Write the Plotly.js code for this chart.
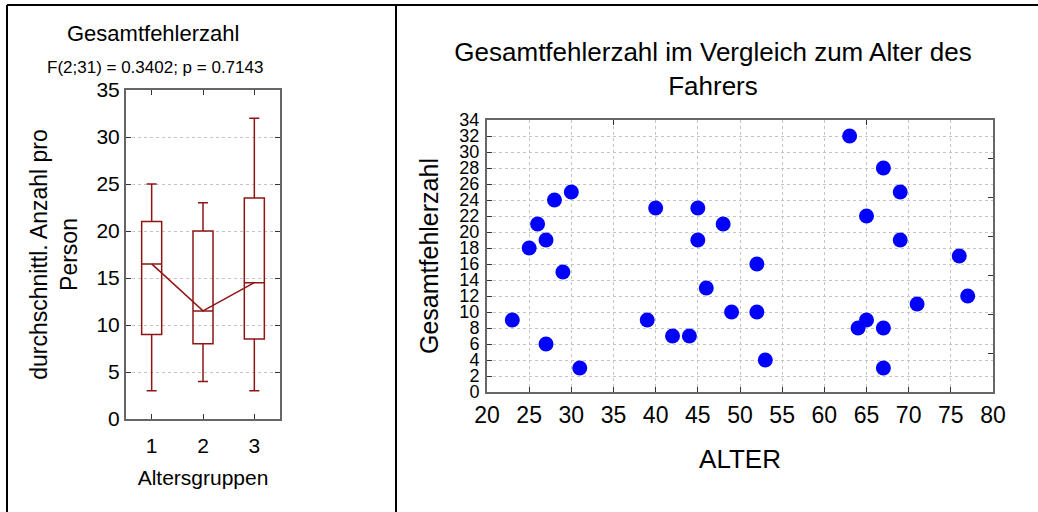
<!DOCTYPE html>
<html><head><meta charset="utf-8">
<script src="https://cdn.plot.ly/plotly-3.0.1.min.js"></script>
<style>html,body{margin:0;padding:0;background:#fff}</style>
</head><body><div id="chart" style="width:1038px;height:512px"></div>
<script>
// ---- Data: box plot (Altersgruppen) ----
const groups = [1, 2, 3];
const groupLabels = ['1', '2', '3'];
const boxLower = [3, 4, 3];
const boxQ1 = [9, 8, 8.5];
const boxMedian = [16.5, 11.5, 14.5];
const boxQ3 = [21, 20, 23.5];
const boxUpper = [25, 23, 32];

// ---- Data: scatter (ALTER vs Gesamtfehlerzahl) ----
const age =    [23, 25, 26, 27, 28, 29, 30, 27, 31, 39, 40, 42, 44, 45, 45, 46, 48, 52, 49, 52, 53, 63, 67, 69, 65, 69, 76, 77, 71, 65, 64, 67, 67];
const errors = [ 9, 18, 21, 19, 24, 15, 25,  6,  3,  9, 23,  7,  7, 23, 19, 13, 21, 16, 10, 10,  4, 32, 28, 25, 22, 19, 17, 12, 11,  9,  8,  8,  3];

const xTicksRight = [20, 25, 30, 35, 40, 45, 50, 55, 60, 65, 70, 75, 80];

const W = 1038, H = 512;
const px = v => v / W;
const py = v => 1 - v / H;
const FONT = 'Liberation Sans, Arial, sans-serif';
const RED = '#8f1515';

const traces = [
  {
    type: 'box', x: groups, q1: boxQ1, median: boxMedian, q3: boxQ3,
    lowerfence: boxLower, upperfence: boxUpper,
    width: 0.39, whiskerwidth: 0.5, boxpoints: false,
    fillcolor: 'rgba(255,255,255,0)', line: {color: RED, width: 1.5},
    xaxis: 'x', yaxis: 'y', hoverinfo: 'skip', showlegend: false
  },
  {
    type: 'scatter', mode: 'lines', x: groups, y: boxMedian,
    line: {color: RED, width: 1.5}, xaxis: 'x', yaxis: 'y',
    hoverinfo: 'skip', showlegend: false
  },
  {
    type: 'scatter', mode: 'markers', x: age, y: errors,
    marker: {color: '#0000ff', size: 15},
    xaxis: 'x2', yaxis: 'y2', showlegend: false
  },
  {
    type: 'scatter', mode: 'markers', x: [], y: [],
    xaxis: 'x3', yaxis: 'y3', showlegend: false, hoverinfo: 'skip'
  }
];

const frame = {showline: true, linecolor: '#666', linewidth: 2, zeroline: false,
  ticks: 'inside', ticklen: 5, tickwidth: 1, tickcolor: '#333'};

const layout = {
  width: W, height: H,
  margin: {l: 0, r: 0, t: 0, b: 0},
  paper_bgcolor: '#fff', plot_bgcolor: '#fff',
  font: {family: FONT, color: '#000'},
  showlegend: false,
  title: {
    text: 'Gesamtfehlerzahl im Vergleich zum Alter des<br>Fahrers',
    font: {size: 26, family: FONT, color: '#000'},
    x: px(713), xref: 'paper', xanchor: 'center',
    y: py(61), yref: 'paper', yanchor: 'middle'
  },
  xaxis: Object.assign({}, frame, {
    domain: [px(126), px(280)], anchor: 'y', range: [0.5, 3.5],
    tickvals: groups, ticktext: groupLabels, mirror: 'ticks',
    showgrid: false, tickfont: {size: 21}, ticklabelstandoff: 7,
    title: {text: 'Altersgruppen', font: {size: 21}, standoff: 14}
  }),
  yaxis: Object.assign({}, frame, {
    domain: [1 - 419 / H, 1 - 90 / H], anchor: 'x', range: [0, 35],
    dtick: 5, mirror: 'ticks', showgrid: true, gridcolor: '#c4c4c4',
    griddash: 'dot', gridwidth: 1, tickfont: {size: 21}, ticklabelstandoff: 0,
    title: {text: 'durchschnittl. Anzahl pro<br>Person', font: {size: 23}, standoff: 12}
  }),
  xaxis2: Object.assign({}, frame, {
    domain: [px(487), px(993)], anchor: 'y2', range: [20, 80],
    tickvals: xTicksRight, mirror: true, showgrid: true, gridcolor: '#c4c4c4',
    griddash: 'dot', gridwidth: 1, tickfont: {size: 23}, ticklabelstandoff: 1,
    title: {text: 'ALTER', font: {size: 26}, standoff: 23}
  }),
  yaxis2: Object.assign({}, frame, {
    domain: [1 - 392 / H, 1 - 120 / H], anchor: 'x2', range: [0, 34],
    dtick: 2, mirror: true, showgrid: true, gridcolor: '#c4c4c4',
    griddash: 'dot', gridwidth: 1, tickfont: {size: 18}, ticklabelstandoff: 2,
    title: {text: 'Gesamtfehlerzahl', font: {size: 25}, standoff: 14}
  }),
  xaxis3: {
    overlaying: 'x2', anchor: 'y3', side: 'top', range: [20, 80],
    tickvals: [35, 65], ticks: 'inside', ticklen: 5, tickcolor: '#333',
    showticklabels: false, showgrid: false, zeroline: false, showline: false
  },
  yaxis3: {
    overlaying: 'y2', anchor: 'x3', side: 'right', range: [0, 35],
    dtick: 5, ticks: 'inside', ticklen: 5, tickcolor: '#333',
    showticklabels: false, showgrid: false, zeroline: false, showline: false
  },
  annotations: [
    {text: 'Gesamtfehlerzahl', xref: 'paper', yref: 'paper', x: px(153), y: py(33),
     xanchor: 'center', yanchor: 'middle', showarrow: false, font: {size: 22}},
    {text: 'F(2;31) = 0.3402; p = 0.7143', xref: 'paper', yref: 'paper', x: px(155), y: py(67),
     xanchor: 'center', yanchor: 'middle', showarrow: false, font: {size: 17}}
  ],
  shapes: [
    {type: 'line', xref: 'paper', yref: 'paper', x0: px(7), x1: 1, y0: py(5), y1: py(5), line: {color: '#000', width: 2}},
    {type: 'line', xref: 'paper', yref: 'paper', x0: px(7), x1: px(7), y0: py(5), y1: 0, line: {color: '#000', width: 2}},
    {type: 'line', xref: 'paper', yref: 'paper', x0: px(396), x1: px(396), y0: py(5), y1: 0, line: {color: '#000', width: 2}}
  ]
};

Plotly.newPlot('chart', traces, layout, {displayModeBar: false, staticPlot: true});
</script>
</body></html>
